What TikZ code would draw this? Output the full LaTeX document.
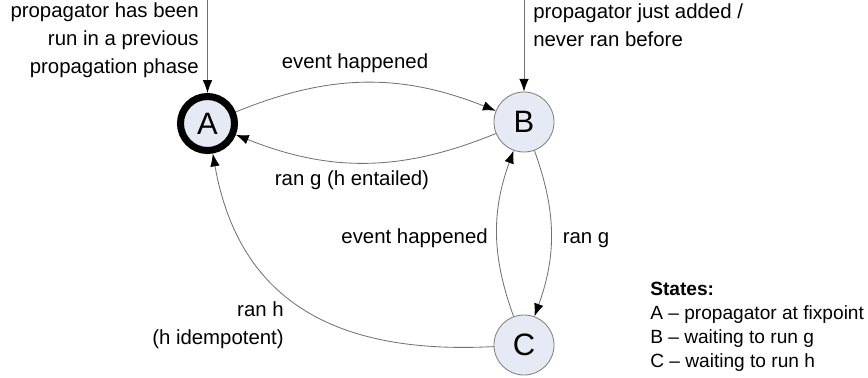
\documentclass[tikz,border=0pt]{standalone}
\usepackage{fontspec}
\setmainfont{Liberation Sans}
\usetikzlibrary{arrows.meta}
\begin{document}
\begin{tikzpicture}[x=0.025cm,y=0.025cm,
  state/.style={circle, draw=StateRim, fill=StateFill, line width=0.6pt, minimum size=1.5cm, inner sep=0pt, font=\fontsize{22}{24}\selectfont},
  fixstate/.style={state, draw=black, line width=5pt, minimum size=1.35cm},
  trans/.style={draw=black!55, line width=0.6pt, -{Latex[length=3.2mm,width=2.4mm,color=black]}},
  lbl/.style={font=\fontsize{14.5}{20}\selectfont, inner sep=0pt},
  legend/.style={font=\fontsize{13.6}{17.2}\selectfont, inner sep=0pt, align=left}]
\definecolor{StateFill}{HTML}{E6EAF4}
\definecolor{StateRim}{HTML}{808080}
\useasboundingbox (0,0) rectangle (868,377);
\node[fixstate] (a) at (207.5,253.5) {A};
\node[state] (b) at (524,255) {B};
\node[state] (c) at (524,32) {C};
\coordinate (ain) at (207.5,377);
\coordinate (bin) at (524,377);
\draw[trans] (ain) -- (a);
\draw[trans] (bin) -- (b);
\node[lbl, anchor=east, align=right] (prevrun) at (199,337) {propagator has been\\run in a previous\\propagation phase};
\node[lbl, anchor=west, align=left] (justadded) at (533,352) {propagator just added /\\never ran before};
\draw[trans] (a) to[bend left=22] (b);
\draw[trans] (b) to[bend left=22] (a);
\draw[trans] (b) to[bend left=20] (c);
\draw[trans] (c) to[bend left=20] (b);
\draw[trans] (c) to[out=183,in=-80,looseness=1.15] (a);
\node[lbl] (evab) at (355,314) {event happened};
\node[lbl] (ranga) at (352,197) {ran g (h entailed)};
\node[lbl] (rangc) at (586,137) {ran g};
\node[lbl, anchor=east] (evcb) at (488,139) {event happened};
\node[lbl, anchor=east, align=right] (ranh) at (284,52) {ran h\\(h idempotent)};
\node[legend, anchor=west] (states) at (650,50) {\textbf{States:}\\A -- propagator at fixpoint\\B -- waiting to run g\\C -- waiting to run h};
\end{tikzpicture}
\end{document}
